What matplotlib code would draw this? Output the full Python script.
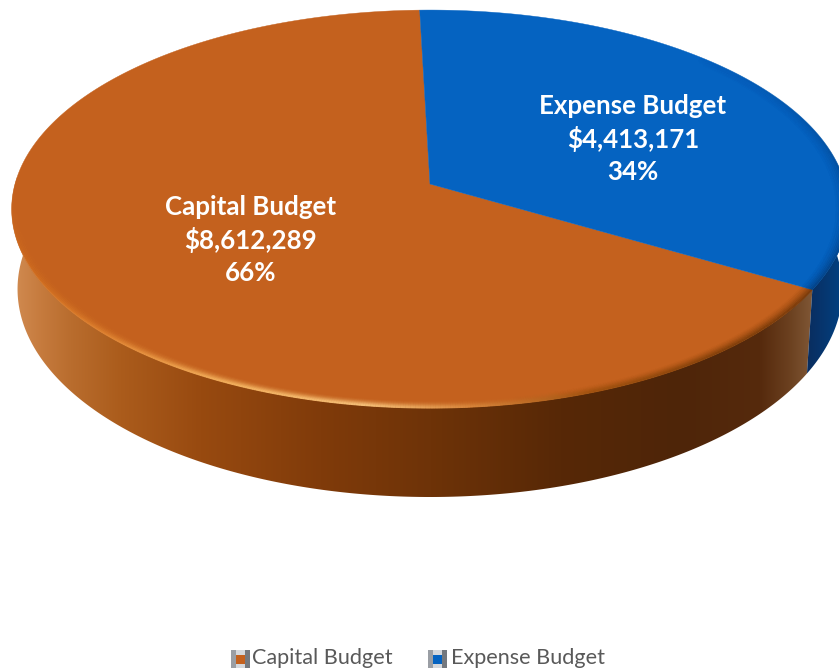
import numpy as np
import matplotlib
matplotlib.use('Agg')
import matplotlib.pyplot as plt
from matplotlib.collections import LineCollection
from matplotlib.colors import to_rgb
from matplotlib.patches import Polygon, Rectangle

plt.rcParams['font.family'] = ['Lato', 'DejaVu Sans']

# data
labels = ['Capital Budget', 'Expense Budget']
values = [8612289, 4413171]
pcts = [66, 34]

# colours
TOP_COLORS = ['#C4611E', '#0563C1']
TEXT_GREY = '#595959'

# the pie is a circle seen in perspective, so a slice keeps its true angle
APEX_X, APEX_Y = 430, 184
A, B, K = 415.0, 195.8, 0.1256
START_ANGLE = 91.6


def top_rim(theta):
    s = np.sin(np.radians(theta))
    c = np.cos(np.radians(theta))
    w = 1 + K * s
    return APEX_X + A * c / w, APEX_Y - B * s / w


def bottom_rim(theta):
    s = np.sin(np.radians(theta))
    c = np.cos(np.radians(theta))
    w = 1 + K * s
    return APEX_X + 0.986 * A * c / w, 263 - 1.045 * B * s / w


def hexes_to_rgb(stops):
    return np.array([to_rgb(x) for x in stops])


def gradient(ax, xs, stops, clip):
    # horizontal shading clipped to the wall outline
    grid = np.arange(0, 840)
    rgb = hexes_to_rgb(stops)
    row = np.stack([np.interp(grid, xs, rgb[:, i]) for i in range(3)], axis=1)
    im = ax.imshow(row[np.newaxis, :, :], extent=(0, 840, 669, 0), aspect='auto', zorder=2)
    im.set_clip_path(clip)


def wall(ax, t0, t1, xs, stops):
    th = np.linspace(t0, t1, 300)
    x1, y1 = top_rim(th)
    x2, y2 = bottom_rim(th)
    pts = np.column_stack([np.r_[x1, x2[::-1]], np.r_[y1, y2[::-1]]])
    clip = Polygon(pts, closed=True, transform=ax.transData, fc='none', ec='none')
    ax.add_patch(clip)
    gradient(ax, xs, stops, clip)


def rim_light(ax, t0, t1, ts, stops, fade_ts, fade, scales, alphas, widths):
    rgb = hexes_to_rgb(stops)
    th = np.linspace(t0, t1, 500)
    for scale, alpha, lw in zip(scales, alphas, widths):
        x, y = top_rim(th)
        x = APEX_X + (x - APEX_X) * scale
        y = 209 + (y - 209) * scale
        pts = np.column_stack([x, y]).reshape(-1, 1, 2)
        segs = np.concatenate([pts[:-1], pts[1:]], axis=1)
        mid = (th[:-1] + th[1:]) / 2
        cols = np.stack([np.interp(mid, ts, rgb[:, i]) for i in range(3)], axis=1)
        cols = np.column_stack([cols, alpha * np.interp(mid, fade_ts, fade)])
        ax.add_collection(LineCollection(segs, colors=cols, linewidths=lw, zorder=4, capstyle='butt'))


fig = plt.figure(figsize=(8.39, 6.69), dpi=100)
ax = fig.add_axes([0, 0, 1, 1])
ax.set_xlim(0, 839)
ax.set_ylim(669, 0)
ax.axis('off')

sweeps = np.array(values) / sum(values) * 360
blue_end = START_ANGLE - sweeps[1]

# side walls
wall(ax, 178, 360 + blue_end,
     [15, 40, 70, 120, 200, 320, 430, 560, 680, 760, 790, 810],
     ['#D08A50', '#C67B3E', '#B96D2E', '#AB5C1C', '#984A10', '#803B0A', '#6E3308',
      '#572806', '#4E2509', '#562A0D', '#6C4120', '#7E5634'])
wall(ax, blue_end, 5,
     [805, 820, 840],
     ['#0A2C5C', '#07346C', '#02407F'])

# top faces, orange from the blue end all the way round
order = [(blue_end - sweeps[0], blue_end, TOP_COLORS[0]), (blue_end, START_ANGLE, TOP_COLORS[1])]
for t0, t1, col in order:
    th = np.linspace(t0, t1, 400)
    x, y = top_rim(th)
    ax.add_patch(Polygon(np.column_stack([np.r_[APEX_X, x], np.r_[APEX_Y, y]]),
                         closed=True, fc=col, ec=col, lw=0.3, zorder=3))

# soft bevel along the edge of the top faces, inner layers first
scales = [0.974, 0.979, 0.984, 0.988, 0.992, 0.996, 0.999]
alphas = [0.06, 0.12, 0.2, 0.32, 0.48, 0.7, 0.9]
widths = [2.2, 2.2, 2.0, 1.8, 1.6, 1.4, 1.2]
rim_light(ax, 178, 360 + blue_end,
          [185, 205, 225, 245, 262, 275, 290, 310, 330],
          ['#D8731F', '#DD7A22', '#E58A35', '#F4B25F', '#F7C27A', '#D8853A', '#A0520F', '#803F0A', '#74380A'],
          [178, 215, 240], [0.0, 0.6, 1.0],
          scales, alphas, widths)
rim_light(ax, blue_end, 45,
          [blue_end, 10, 45],
          ['#033F80', '#03488F', '#0455A8'],
          [blue_end, 5, 45], [1.0, 0.6, 0.0],
          scales, alphas, widths)

# data labels
centers = [(251, 240), (633, 139)]
for name, val, pct, (cx, cy) in zip(labels, values, pcts, centers):
    ax.text(cx, cy, f'{name}\n${val:,}\n{pct}%', color='white', fontsize=18.6, fontweight='bold',
            ha='center', va='center', linespacing=1.4, zorder=6)

# legend
key_x = [231, 428]
text_x = [252, 451]
key_cols = TOP_COLORS
for name, kx, tx, col in zip(labels, key_x, text_x, key_cols):
    ax.add_patch(Rectangle((kx, 650), 19, 18, fc='#D5D8DC', ec='none', zorder=5))
    ax.add_patch(Rectangle((kx, 650), 5, 18, fc='#9A9EA4', ec='none', zorder=5))
    ax.add_patch(Rectangle((kx + 14, 650), 5, 18, fc='#74787E', ec='none', zorder=5))
    ax.add_patch(Rectangle((kx + 5, 655), 9, 9, fc=col, ec='none', zorder=6))
    ax.text(tx, 658, name, color=TEXT_GREY, fontsize=15.6, ha='left', va='center', zorder=6)

fig.savefig('out.png', dpi=100)
